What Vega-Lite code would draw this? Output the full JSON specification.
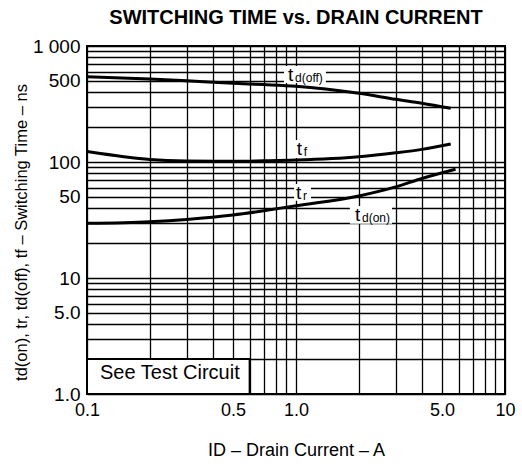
{
  "$schema": "https://vega.github.io/schema/vega-lite/v6.json",
  "width": 418,
  "height": 348,
  "autosize": {"type": "none"},
  "padding": {"left": 87, "top": 46, "right": 17, "bottom": 70},
  "background": "white",
  "title": {"text": "SWITCHING TIME vs. DRAIN CURRENT", "font": "Liberation Sans", "fontSize": 20, "fontWeight": "bold", "anchor": "middle", "offset": 9, "color": "black"},
  "config": {"view": {"stroke": "black", "strokeWidth": 2}, "font": "Liberation Sans"},
  "datasets": {
    "curves": [
      {"s": "td(off)", "x": 0.1, "y": 543}, {"s": "td(off)", "x": 0.2, "y": 519}, {"s": "td(off)", "x": 0.3, "y": 502}, {"s": "td(off)", "x": 0.5, "y": 477}, {"s": "td(off)", "x": 0.7, "y": 465}, {"s": "td(off)", "x": 1.0, "y": 450}, {"s": "td(off)", "x": 2.0, "y": 391}, {"s": "td(off)", "x": 3.0, "y": 347}, {"s": "td(off)", "x": 4.0, "y": 321}, {"s": "td(off)", "x": 5.5, "y": 290},
      {"s": "tf", "x": 0.1, "y": 123}, {"s": "tf", "x": 0.15, "y": 111}, {"s": "tf", "x": 0.2, "y": 105}, {"s": "tf", "x": 0.3, "y": 102}, {"s": "tf", "x": 0.5, "y": 101.5}, {"s": "tf", "x": 0.7, "y": 102.5}, {"s": "tf", "x": 1.0, "y": 104}, {"s": "tf", "x": 2.0, "y": 111}, {"s": "tf", "x": 3.0, "y": 120}, {"s": "tf", "x": 4.0, "y": 128.5}, {"s": "tf", "x": 5.5, "y": 143},
      {"s": "tr", "x": 0.1, "y": 29.6}, {"s": "tr", "x": 0.2, "y": 30.6}, {"s": "tr", "x": 0.3, "y": 32}, {"s": "tr", "x": 0.5, "y": 34.9}, {"s": "tr", "x": 0.7, "y": 38}, {"s": "tr", "x": 1.0, "y": 42}, {"s": "tr", "x": 2.0, "y": 51}, {"s": "tr", "x": 3.0, "y": 61}, {"s": "tr", "x": 4.0, "y": 72}, {"s": "tr", "x": 5.8, "y": 86.5}
    ],
    "labels": [
      {"main": "t", "sub": "d(off)", "x": 0.916, "y": 562, "bx": 0.876, "bx2": 1.39, "by": 480, "by2": 672},
      {"main": "t", "sub": "f", "x": 1.008, "y": 129.4, "bx": 0.978, "bx2": 1.19, "by": 108.5, "by2": 155},
      {"main": "t", "sub": "r", "x": 1.0, "y": 54.3, "bx": 0.978, "bx2": 1.18, "by": 46.4, "by2": 64.7},
      {"main": "t", "sub": "d(on)", "x": 1.915, "y": 34.9, "bx": 1.81, "bx2": 2.88, "by": 29.3, "by2": 41.7}
    ],
    "box": [
      {"x": 0.1, "x2": 0.6, "y": 1, "y2": 2, "tx": 0.1154, "ty": 1.52, "text": "See Test Circuit"}
    ]
  },
  "layer": [
    {
      "data": {"name": "curves"},
      "mark": {"type": "line", "interpolate": "monotone", "color": "black", "strokeWidth": 3, "strokeCap": "butt"},
      "encoding": {
        "x": {"field": "x", "type": "quantitative",
          "scale": {"type": "log", "domain": [0.1, 10], "nice": false},
          "axis": {
            "values": [0.1, 0.2, 0.3, 0.4, 0.5, 0.6, 0.7, 0.8, 0.9, 1, 2, 3, 4, 5, 6, 7, 8, 9, 10],
            "labelExpr": "datum.value==0.1?'0.1':datum.value==0.5?'0.5':datum.value==1?'1.0':datum.value==5?'5.0':datum.value==10?'10':''",
            "grid": true, "gridColor": "black", "gridOpacity": 1, "gridWidth": 1.3,
            "ticks": false, "domain": false,
            "labelFont": "Liberation Sans", "labelFontSize": 18, "labelColor": "black", "labelPadding": 7, "labelFlush": false, "labelOverlap": false,
            "title": "ID – Drain Current – A", "titleFont": "Liberation Sans", "titleFontSize": 18, "titleFontWeight": "normal", "titleColor": "black", "titlePadding": 22
          }
        },
        "y": {"field": "y", "type": "quantitative",
          "scale": {"type": "log", "domain": [1, 1000], "nice": false},
          "axis": {
            "values": [1, 2, 3, 4, 5, 6, 7, 8, 9, 10, 20, 30, 40, 50, 60, 70, 80, 90, 100, 200, 300, 400, 500, 600, 700, 800, 900, 1000],
            "labelExpr": "datum.value==1?'1.0':datum.value==5?'5.0':datum.value==10?'10':datum.value==50?'50':datum.value==100?'100':datum.value==500?'500':datum.value==1000?'1 000':''",
            "grid": true, "gridColor": "black", "gridOpacity": 1, "gridWidth": 1.3,
            "ticks": false, "domain": false,
            "labelFont": "Liberation Sans", "labelFontSize": 19, "labelColor": "black", "labelPadding": 7, "labelFlush": false, "labelOverlap": false,
            "title": "td(on), tr, td(off), tf – Switching Time – ns", "titleFont": "Liberation Sans", "titleFontSize": 16.5, "titleFontWeight": "normal", "titleColor": "black",
            "titleX": -66, "titleY": 186, "titleAngle": -90, "titleAlign": "center", "titleBaseline": "middle"
          }
        },
        "detail": {"field": "s", "type": "nominal"}
      }
    },
    {
      "data": {"name": "labels"},
      "mark": {"type": "rect", "color": "white", "opacity": 1},
      "encoding": {
        "x": {"field": "bx", "type": "quantitative"},
        "x2": {"field": "bx2"},
        "y": {"field": "by", "type": "quantitative"},
        "y2": {"field": "by2"}
      }
    },
    {
      "data": {"name": "labels"},
      "mark": {"type": "text", "align": "left", "baseline": "middle", "font": "Liberation Sans", "fontSize": 19, "color": "black"},
      "encoding": {
        "x": {"field": "x", "type": "quantitative"},
        "y": {"field": "y", "type": "quantitative"},
        "text": {"field": "main"}
      }
    },
    {
      "data": {"name": "labels"},
      "mark": {"type": "text", "align": "left", "baseline": "middle", "font": "Liberation Sans", "fontSize": 12, "color": "black", "dx": 7, "dy": 3},
      "encoding": {
        "x": {"field": "x", "type": "quantitative"},
        "y": {"field": "y", "type": "quantitative"},
        "text": {"field": "sub"}
      }
    },
    {
      "data": {"name": "box"},
      "mark": {"type": "rect", "fill": "white", "stroke": "black", "strokeWidth": 2},
      "encoding": {
        "x": {"field": "x", "type": "quantitative"},
        "x2": {"field": "x2"},
        "y": {"field": "y", "type": "quantitative"},
        "y2": {"field": "y2"}
      }
    },
    {
      "data": {"name": "box"},
      "mark": {"type": "text", "align": "left", "baseline": "middle", "font": "Liberation Sans", "fontSize": 20, "color": "black"},
      "encoding": {
        "x": {"field": "tx", "type": "quantitative"},
        "y": {"field": "ty", "type": "quantitative"},
        "text": {"field": "text"}
      }
    }
  ]
}
